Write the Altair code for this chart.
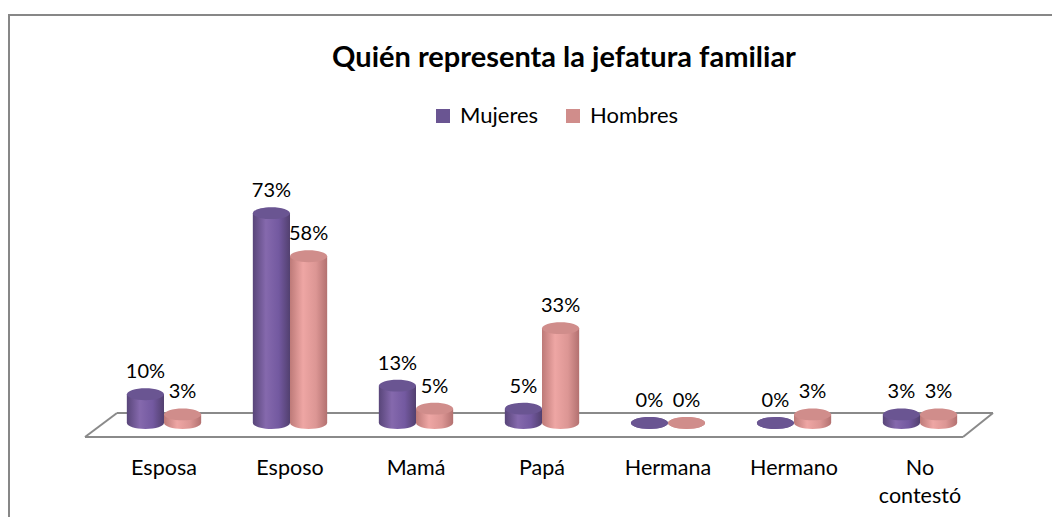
import altair as alt
import pandas as pd

categorias = ["Esposa", "Esposo", "Mamá", "Papá", "Hermana", "Hermano", "No contestó"]
series = ["Mujeres", "Hombres"]
mujeres = [10, 73, 13, 5, 0, 0, 3]
hombres = [3, 58, 5, 33, 0, 3, 3]
titulo = "Quién representa la jefatura familiar"

rows = []
for c, m, h in zip(categorias, mujeres, hombres):
    rows.append({"cat": c, "serie": "Mujeres", "valor": m, "etiqueta": f"{m}%"})
    rows.append({"cat": c, "serie": "Hombres", "valor": h, "etiqueta": f"{h}%"})
df = pd.DataFrame(rows)
one = pd.DataFrame({"k": [0]})

FONT = "Lato"
ELLIPSE = "M-1,0A1,0.324,0,1,0,1,0A1,0.324,0,1,0,-1,0Z"
CAP_SIZE = 37 * 37

grad = {
    "Mujeres": alt.Gradient(gradient="linear", x1=0, x2=1, y1=0, y2=0, stops=[
        alt.GradientStop(offset=0, color="#584579"),
        alt.GradientStop(offset=0.35, color="#8569ad"),
        alt.GradientStop(offset=0.7, color="#7359a0"),
        alt.GradientStop(offset=1, color="#52406f"),
    ]),
    "Hombres": alt.Gradient(gradient="linear", x1=0, x2=1, y1=0, y2=0, stops=[
        alt.GradientStop(offset=0, color="#bd7a78"),
        alt.GradientStop(offset=0.35, color="#eea6a4"),
        alt.GradientStop(offset=0.7, color="#dc9694"),
        alt.GradientStop(offset=1, color="#b37170"),
    ]),
}
cap_colors = ["#6a5592", "#d08d8b"]

x_enc = alt.X(
    "cat:N", sort=categorias,
    scale=alt.Scale(paddingInner=0.41, paddingOuter=0.205),
    axis=alt.Axis(
        title=None, labelAngle=0, domain=False, ticks=False, grid=False,
        labelFont=FONT, labelFontSize=21.5, labelColor="#000000",
        labelPadding=34, labelBaseline="top", labelLineHeight=28,
        labelOverlap=False, labelFlush=False,
        labelExpr="datum.value == 'No contestó' ? ['No', 'contestó'] : datum.label",
    ),
)
xo_enc = alt.XOffset("serie:N", sort=series,
                     scale=alt.Scale(domain=series, paddingInner=0, paddingOuter=0))
y_enc = alt.Y("valor:Q", scale=alt.Scale(domain=[0, 80], nice=False), axis=None)
y0_enc = alt.Y("base0:Q", scale=alt.Scale(domain=[0, 80], nice=False), axis=None)

base = alt.Chart(df)

border = alt.Chart(one).mark_rect(fillOpacity=0, stroke="#878787", strokeWidth=2).encode(
    x=alt.value(-92), x2=alt.value(975), y=alt.value(-178), y2=alt.value(345)
)

floor_style = dict(color="#8a8a8a", strokeWidth=2)
floor = [
    alt.Chart(one).mark_rule(**floor_style).encode(
        x=alt.value(16), x2=alt.value(892), y=alt.value(220), y2=alt.value(220)),
    alt.Chart(one).mark_rule(**floor_style).encode(
        x=alt.value(892), x2=alt.value(862), y=alt.value(220), y2=alt.value(244)),
    alt.Chart(one).mark_rule(**floor_style).encode(
        x=alt.value(862), x2=alt.value(-16), y=alt.value(244), y2=alt.value(244)),
    alt.Chart(one).mark_rule(**floor_style).encode(
        x=alt.value(-16), x2=alt.value(16), y=alt.value(244), y2=alt.value(220)),
]

layers = [border] + floor
for i, s in enumerate(series):
    sub = base.transform_filter(alt.datum.serie == s)
    bottom = sub.transform_calculate(base0="0").mark_point(
        shape=ELLIPSE, size=CAP_SIZE, filled=True, opacity=1,
        strokeWidth=0, color=grad[s]).encode(
        x=x_enc, xOffset=xo_enc, y=y0_enc)
    body = sub.mark_bar(color=grad[s], strokeWidth=0).encode(
        x=x_enc, xOffset=xo_enc, y=y_enc)
    top = sub.mark_point(shape=ELLIPSE, size=CAP_SIZE, filled=True, opacity=1,
                         strokeWidth=0).encode(
        x=x_enc, xOffset=xo_enc, y=y_enc,
        color=alt.Color("serie:N",
                        scale=alt.Scale(domain=series, range=cap_colors),
                        legend=alt.Legend(
                            title=None, orient="none", legendX=331, legendY=-88,
                            direction="horizontal", symbolType="square",
                            symbolSize=196, symbolStrokeWidth=0,
                            labelFont=FONT, labelFontSize=22, labelColor="#000000",
                            labelOffset=6, columnPadding=23,
                        )),
    )
    layers += [bottom, body, top]

labels = base.mark_text(baseline="alphabetic", dy=-16, font=FONT, fontSize=20,
                        color="#000000").encode(
    x=x_enc, xOffset=xo_enc, y=y_enc, text="etiqueta:N")

title = alt.Chart(one).mark_text(font=FONT, fontSize=29, fontWeight="bold",
                                 color="#000000", align="center",
                                 baseline="middle").encode(
    x=alt.value(463), y=alt.value(-135), text=alt.value(titulo))

layers += [labels, title]

chart = alt.layer(*layers).properties(
    width=882, height=230,
    autosize=alt.AutoSizeParams(type="none"),
    padding={"left": 93, "top": 185, "right": 69, "bottom": 94},
    background="white",
).configure_view(stroke=None)

chart.save("out.html", embed_options={"renderer": "svg", "actions": False})
